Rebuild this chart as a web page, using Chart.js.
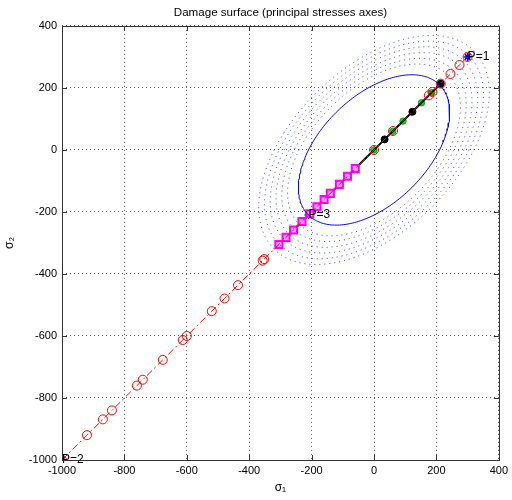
<!DOCTYPE html>
<html>
<head>
<meta charset="utf-8">
<script src="https://cdn.jsdelivr.net/npm/chart.js@4/dist/chart.umd.min.js"></script>
<style>
    html, body { margin: 0; padding: 0; background: #fff; }
    #chartDamage { display: block; }
</style>
</head>
<body>
<canvas id="chartDamage" width="512" height="500"></canvas>
<script>
// loading steps along the sigma1 = sigma2 line (stress values)
var redSteps = [-1000, -920, -869, -840, -760, -741, -677, -613, -600, -520, -479, -436, -357, -352,
    0, 61, 176, 187, 214, 245, 274, 300];
var magentaSteps = [-305, -282, -258, -231, -206, -183, -160, -140, -111, -85, -60];
var blackSteps = [-305, -282, -258, -231, -206, -183, -160, -140, -111, -85, -60, 34, 123, 214];
var blackDots = [34, 123, 214];
var greenSteps = [0, 60, 93, 152, 185, 212];

// labelled points
var pointNames = ["P=1", "P=2", "P=3"];
var pointValues = [300, -1000, -210];

// damage surface radius and the dotted outer surfaces
var surfaceRadius = 210;
var outerRadii = [240, 256, 272, 288, 304, 320];

var tickValues = [-1000, -800, -600, -400, -200, 0, 200, 400];

function diag(values) {
    var pts = [];
    for (var i = 0; i < values.length; i++) {
        pts.push({ x: values[i], y: values[i] });
    }
    return pts;
}

// von Mises ellipse s1^2 - s1*s2 + s2^2 = r^2
function surface(r) {
    var pts = [];
    var n = 240;
    for (var i = 0; i <= n; i++) {
        var t = 2 * Math.PI * i / n;
        pts.push({
            x: r * Math.cos(t) + r / Math.sqrt(3) * Math.sin(t),
            y: r * Math.cos(t) - r / Math.sqrt(3) * Math.sin(t)
        });
    }
    return pts;
}

var datasets = [];

for (var k = 0; k < outerRadii.length; k++) {
    datasets.push({
        data: surface(outerRadii[k]),
        showLine: true,
        borderColor: "rgba(0,0,255,0.75)",
        borderWidth: 1,
        borderDash: [1, 4],
        pointRadius: 0
    });
}

datasets.push({
    data: surface(surfaceRadius),
    showLine: true,
    borderColor: "#0000ff",
    borderWidth: 1,
    pointRadius: 0
});

datasets.push({
    data: diag(redSteps),
    showLine: true,
    borderColor: "#ff0000",
    borderWidth: 1,
    borderDash: [7, 3, 2, 3],
    pointStyle: "circle",
    pointRadius: 4.5,
    pointBorderColor: "#ff0000",
    pointBackgroundColor: "rgba(0,0,0,0)",
    pointBorderWidth: 1
});

datasets.push({
    data: diag(magentaSteps),
    showLine: true,
    borderColor: "#ff00ff",
    borderWidth: 2,
    pointStyle: "rect",
    pointRadius: 5,
    pointBorderColor: "#ff00ff",
    pointBackgroundColor: "#ff9cff",
    pointBorderWidth: 2
});

datasets.push({
    data: diag(blackSteps),
    showLine: true,
    borderColor: "#000000",
    borderWidth: 2,
    pointRadius: 1.2,
    pointBorderColor: "#000000",
    pointBackgroundColor: "#000000",
    pointBorderWidth: 0
});

datasets.push({
    data: diag(blackDots),
    showLine: false,
    pointRadius: 3.5,
    pointBorderColor: "#000000",
    pointBackgroundColor: "#000000"
});

datasets.push({
    data: diag(greenSteps),
    showLine: false,
    pointRadius: 3.2,
    pointBorderColor: "#00b000",
    pointBackgroundColor: "#00e000",
    pointBorderWidth: 1
});

datasets.push({
    data: diag(pointValues),
    showLine: false,
    pointStyle: "star",
    pointRadius: 4,
    pointBorderColor: "#0000ff",
    pointBorderWidth: 1.5
});

// axes box with inward ticks and the point labels
var framePlugin = {
    id: "frame",
    afterDraw: function (chart) {
        var ctx = chart.ctx;
        var a = chart.chartArea;
        var sx = chart.scales.x;
        var sy = chart.scales.y;
        ctx.save();
        ctx.fillStyle = "#000";
        ctx.font = "12px 'Liberation Sans', Arial, sans-serif";
        ctx.textBaseline = "middle";
        ctx.textAlign = "left";
        for (var i = 0; i < pointNames.length; i++) {
            ctx.fillText(pointNames[i], sx.getPixelForValue(pointValues[i]), sy.getPixelForValue(pointValues[i]));
        }
        ctx.strokeStyle = "#333";
        ctx.lineWidth = 1;
        ctx.strokeRect(Math.round(a.left) + 0.5, Math.round(a.top) + 0.5,
            Math.round(a.right - a.left), Math.round(a.bottom - a.top));
        ctx.beginPath();
        for (var j = 0; j < tickValues.length; j++) {
            var px = Math.round(sx.getPixelForValue(tickValues[j])) + 0.5;
            ctx.moveTo(px, a.bottom); ctx.lineTo(px, a.bottom - 5);
            ctx.moveTo(px, a.top); ctx.lineTo(px, a.top + 5);
            var py = Math.round(sy.getPixelForValue(tickValues[j])) + 0.5;
            ctx.moveTo(a.left, py); ctx.lineTo(a.left + 5, py);
            ctx.moveTo(a.right, py); ctx.lineTo(a.right - 5, py);
        }
        ctx.stroke();
        ctx.restore();
    }
};

var tickFont = { family: "'Liberation Sans', Arial, sans-serif", size: 11 };

var ctx = document.getElementById("chartDamage");
var myChart = new Chart(ctx, {
    type: "scatter",
    data: { datasets: datasets },
    options: {
        responsive: false,
        animation: false,
        layout: { padding: { left: 0, right: 12, top: 0, bottom: 0 } },
        plugins: {
            legend: { display: false },
            tooltip: { enabled: false },
            title: {
                display: true,
                fullSize: false,
                text: "Damage surface (principal stresses axes)",
                color: "#000",
                font: { family: "'Liberation Sans', Arial, sans-serif", size: 11.6, weight: "normal" },
                padding: { top: 6, bottom: 6 }
            }
        },
        scales: {
            x: {
                type: "linear",
                min: -1000,
                max: 400,
                afterFit: function (scale) { scale.height = 40; },
                afterBuildTicks: function (scale) {
                    scale.ticks = tickValues.map(function (v) { return { value: v }; });
                },
                ticks: {
                    color: "#000",
                    font: tickFont,
                    padding: 4,
                    maxRotation: 0,
                    callback: function (v) { return String(v); }
                },
                grid: { color: "#555", lineWidth: 1, tickLength: 0 },
                border: { display: false, dash: [1, 3] },
                title: {
                    display: true,
                    text: "σ₁",
                    color: "#000",
                    font: { family: "'Liberation Sans', Arial, sans-serif", size: 12 },
                    padding: { top: 0, bottom: 5 }
                }
            },
            y: {
                type: "linear",
                min: -1000,
                max: 400,
                afterFit: function (scale) { scale.width = 62; },
                afterBuildTicks: function (scale) {
                    scale.ticks = tickValues.map(function (v) { return { value: v }; });
                },
                ticks: {
                    color: "#000",
                    font: tickFont,
                    padding: 5,
                    callback: function (v) { return String(v); }
                },
                grid: { color: "#555", lineWidth: 1, tickLength: 0 },
                border: { display: false, dash: [1, 3] },
                title: {
                    display: true,
                    text: "σ₂",
                    color: "#000",
                    font: { family: "'Liberation Sans', Arial, sans-serif", size: 12 },
                    padding: { top: 2, bottom: 0 }
                }
            }
        }
    },
    plugins: [framePlugin]
});
</script>
</body>
</html>
